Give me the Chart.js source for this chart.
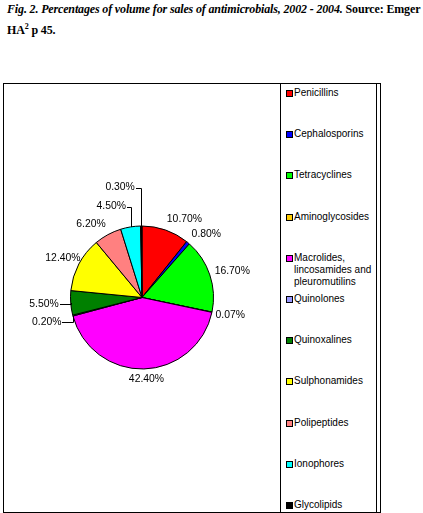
<!DOCTYPE html>
<html>
<head>
<meta charset="utf-8">
<script src="https://cdn.jsdelivr.net/npm/chart.js@4"></script>
<style>
  body { margin: 0; background: #fff; width: 423px; height: 513px; position: relative; overflow: hidden; }
  #title { position: absolute; left: 7px; top: 1px; width: 416px; white-space: nowrap; font: bold italic 12px "Liberation Serif", serif; letter-spacing: -0.15px; line-height: 17px; color: #000; }
  #title .up { font-style: normal; }
  #frame { position: absolute; left: 3px; top: 83px; width: 376px; height: 428px; border: 1px solid #000; }
  #chartBox { position: absolute; left: 4px; top: 84px; width: 276px; height: 427px; }
  #legend { position: absolute; left: 280px; top: 83px; width: 95px; height: 428px; border: 1px solid #000; }
  .item { position: absolute; left: 4px; width: 90px; font: 10px "Liberation Sans", Arial, sans-serif; line-height: 12px; color: #000; }
  .item span.sw { position: absolute; left: 1px; top: 3px; width: 5px; height: 5px; border: 1px solid #000; }
  .item span.tx { display: block; margin-left: 9px; }
</style>
</head>
<body>
<div id="title">Fig. 2. Percentages of volume for sales of antimicrobials, 2002 - 2004. <span class="up">Source: Emger<br>HA<sup style="font-size:8px">2</sup> p 45.</span></div>
<div id="frame"></div>
<div id="chartBox"><canvas id="pieChart"></canvas></div>
<div id="legend"></div>
<script>
const categories = ['Penicillins', 'Cephalosporins', 'Tetracyclines', 'Aminoglycosides',
  'Macrolides, lincosamides and pleuromutilins', 'Quinolones', 'Quinoxalines',
  'Sulphonamides', 'Polipeptides', 'Ionophores', 'Glycolipids'];
const volumePct = [10.70, 0.80, 16.70, 0.07, 42.40, 0.20, 5.50, 12.40, 6.20, 4.50, 0.30];
const sliceColors = ['#FF0000', '#0000FF', '#00FF00', '#FFCC00', '#FF00FF', '#9999FF',
  '#008000', '#FFFF00', '#FF8080', '#00FFFF', '#000000'];
// label nudges from the default outside position, and which ones get a leader line
const labelNudge = [[11, 0], [5, 0], [0, 0], [-2, 1], [2, -1], [-6, 4], [-6, 0], [5, 0], [-7, 0], [-16, -9], [-21, -27]];
const hasLeader = [false, false, false, false, false, true, true, false, false, true, true];

// legend
const legendEl = document.getElementById('legend');
categories.forEach((name, i) => {
  const d = document.createElement('div');
  d.className = 'item';
  d.style.top = (3 + i * 41.2) + 'px';
  d.innerHTML = '<span class="sw" style="background:' + sliceColors[i] + '"></span><span class="tx">' + name + '</span>';
  legendEl.appendChild(d);
});

const pctLabels = {
  id: 'pctLabels',
  afterDatasetsDraw(chart) {
    const ctx = chart.ctx;
    const arcs = chart.getDatasetMeta(0).data;
    ctx.save();
    ctx.font = '10.4px "Liberation Sans", Arial, sans-serif';
    ctx.fillStyle = '#000';
    ctx.strokeStyle = '#000';
    ctx.lineWidth = 1;
    ctx.textAlign = 'center';
    ctx.textBaseline = 'middle';
    arcs.forEach((arc, i) => {
      const a = (arc.startAngle + arc.endAngle) / 2;
      const r = arc.outerRadius;
      const c = Math.cos(a), s = Math.sin(a);
      const txt = volumePct[i].toFixed(2) + '%';
      const w = ctx.measureText(txt).width, h = 11;
      const ax = arc.x + (r + 6) * c, ay = arc.y + (r + 6) * s;
      const lx = ax + w / 2 * c + labelNudge[i][0];
      const ly = ay + h / 2 * s + labelNudge[i][1];
      ctx.fillText(txt, lx, ly);
      if (hasLeader[i]) {
        const px = arc.x + r * c, py = arc.y + r * s;
        const sx = lx + w / 2 + 1;
        const ex = (px - sx < 13) ? px : sx + 7;
        ctx.beginPath();
        ctx.moveTo(Math.round(sx), Math.round(ly) + 0.5);
        ctx.lineTo(Math.round(ex) + 0.5, Math.round(ly) + 0.5);
        ctx.lineTo(Math.round(px) + 0.5, Math.round(py));
        ctx.stroke();
      }
    });
    ctx.restore();
  }
};

new Chart(document.getElementById('pieChart'), {
  type: 'pie',
  data: {
    labels: categories,
    datasets: [{
      data: volumePct,
      backgroundColor: sliceColors,
      borderColor: '#000',
      borderWidth: 1,
      radius: 71.5
    }]
  },
  options: {
    responsive: true,
    maintainAspectRatio: false,
    animation: false,
    plugins: { legend: { display: false }, tooltip: { enabled: false } }
  },
  plugins: [pctLabels]
});
</script>
</body>
</html>
